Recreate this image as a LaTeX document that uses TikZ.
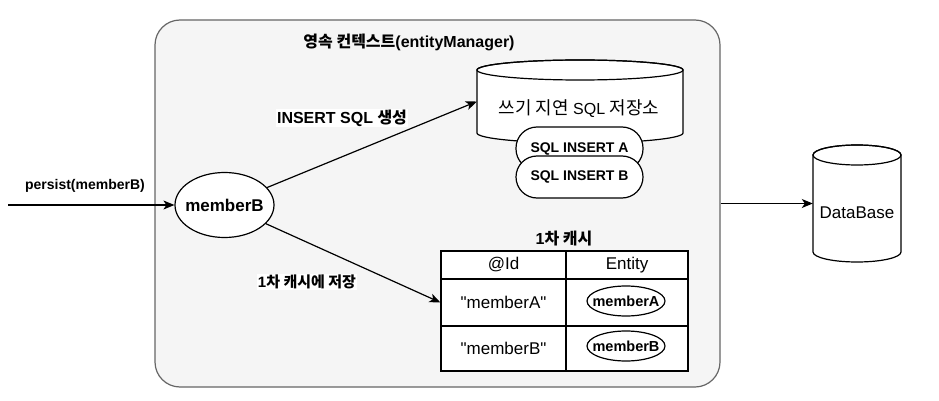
\documentclass[tikz,border=0pt]{standalone}
\usepackage{fontspec}
\setmainfont{Liberation Sans}[Ligatures=TeXOff]
\newfontfamily\kr{Noto Sans CJK KR}
\newfontfamily\krL{Noto Sans CJK KR}[Scale=1.12]
\usetikzlibrary{arrows.meta,shapes.geometric}
\definecolor{ctxfill}{HTML}{F5F5F5}
\definecolor{ctxline}{HTML}{666666}
\tikzset{
  ctxbox/.style={draw=ctxline, fill=ctxfill, rounded corners=25pt, line width=1.2pt, minimum width=565pt, minimum height=367pt, inner sep=0pt},
  bfont/.style={font=\fontsize{14}{16}\selectfont\bfseries},
  rfont/.style={font=\fontsize{17}{19}\selectfont},
  arr/.style={-{Stealth[length=11pt,width=9pt,inset=3pt]}, line width=1.2pt},
  cyl/.style={draw, fill=white, line width=1.2pt},
  pill/.style={draw, fill=white, line width=1.2pt, rounded corners=21pt, minimum width=127pt, inner sep=0pt, bfont},
  cell/.style={draw, fill=white, line width=1.2pt, inner sep=0pt, rfont},
  sell/.style={ellipse, draw, fill=white, line width=1.2pt, minimum width=78pt, minimum height=30pt, inner sep=0pt, font=\fontsize{14.5}{16}\selectfont\bfseries},
  lbl/.style={fill=white, inner sep=1pt},
}
\begin{document}
\begin{tikzpicture}[x=1pt,y=-1pt]
\useasboundingbox (0,0) rectangle (939,401);
% container
\node[ctxbox] (ctx) at (437.5,203.5) {};
\node[font=\fontsize{16}{18}\selectfont\bfseries] (title) at (409,42) {{\kr 영속 컨텍스트}(entityManager)};
% write-behind store cylinder
\node[inner sep=0pt, minimum width=206pt, minimum height=83pt] (store) at (580,101.5) {};
\filldraw[cyl] (477,70) -- (477,133) arc[start angle=180,end angle=360,x radius=103pt,y radius=10pt] -- (683,70) arc[start angle=0,end angle=180,x radius=103pt,y radius=10pt] -- cycle;
\draw[line width=1.2pt] (580,70) ellipse [x radius=103pt, y radius=10pt];
\node[font=\fontsize{16}{18}\selectfont] (storetxt) at (579,109) {{\krL 쓰기 지연} SQL {\krL 저장소}};
\node[pill, minimum height=43pt] (sqlA) at (579.5,148.5) {SQL INSERT A};
\node[pill, minimum height=42pt] (sqlB) at (579.5,177) {SQL INSERT B};
% memberB
\node[ellipse, draw, fill=white, line width=1.2pt, minimum width=99pt, minimum height=65pt, inner sep=0pt, font=\fontsize{17}{19}\selectfont\bfseries] (mB) at (224.5,205) {\makebox[0pt]{memberB}};
\coordinate (pin) at (8,205);
\draw[arr] (pin) -- (mB);
\node[bfont] (plbl) at (85,186) {persist(memberB)};
% table
\node[font=\fontsize{16}{18}\selectfont\bfseries] (ttl) at (564,239) {1{\kr 차 캐시}};
\node[cell, minimum width=125pt, minimum height=28pt] (h1) at (503.5,265) {@Id};
\node[cell, minimum width=122pt, minimum height=28pt] (h2) at (627,265) {Entity};
\node[cell, minimum width=125pt, minimum height=47pt] (r1a) at (503.5,302.5) {"memberA"};
\node[cell, minimum width=122pt, minimum height=47pt] (r1b) at (627,302.5) {};
\node[cell, minimum width=125pt, minimum height=45pt] (r2a) at (503.5,348.5) {"memberB"};
\node[cell, minimum width=122pt, minimum height=45pt] (r2b) at (627,348.5) {};
\node[sell] (eA) at (626,301) {\makebox[0pt]{memberA}};
\node[sell] (eB) at (626,346) {\makebox[0pt]{memberB}};
% arrows from memberB
\draw[arr] (mB) -- (store.west);
\node[lbl, font=\fontsize{16}{18}\selectfont\bfseries] (l1) at (342,118) {INSERT SQL {\kr 생성}};
\draw[arr] (mB) -- (r1a.west);
\node[lbl, font=\fontsize{15}{17}\selectfont\bfseries] (l2) at (307,282) {1{\kr 차 캐시에 저장}};
% database
\node[inner sep=0pt, minimum width=88pt, minimum height=117pt] (db) at (857,203.5) {};
\filldraw[cyl] (813,155) -- (813,252) arc[start angle=180,end angle=360,x radius=44pt,y radius=10pt] -- (901,155) arc[start angle=0,end angle=180,x radius=44pt,y radius=10pt] -- cycle;
\draw[line width=1.2pt] (857,155) ellipse [x radius=44pt, y radius=10pt];
\node[rfont] (dbtxt) at (857,213) {DataBase};
\draw[arr] (ctx.east) -- (db.west);
\end{tikzpicture}
\end{document}
